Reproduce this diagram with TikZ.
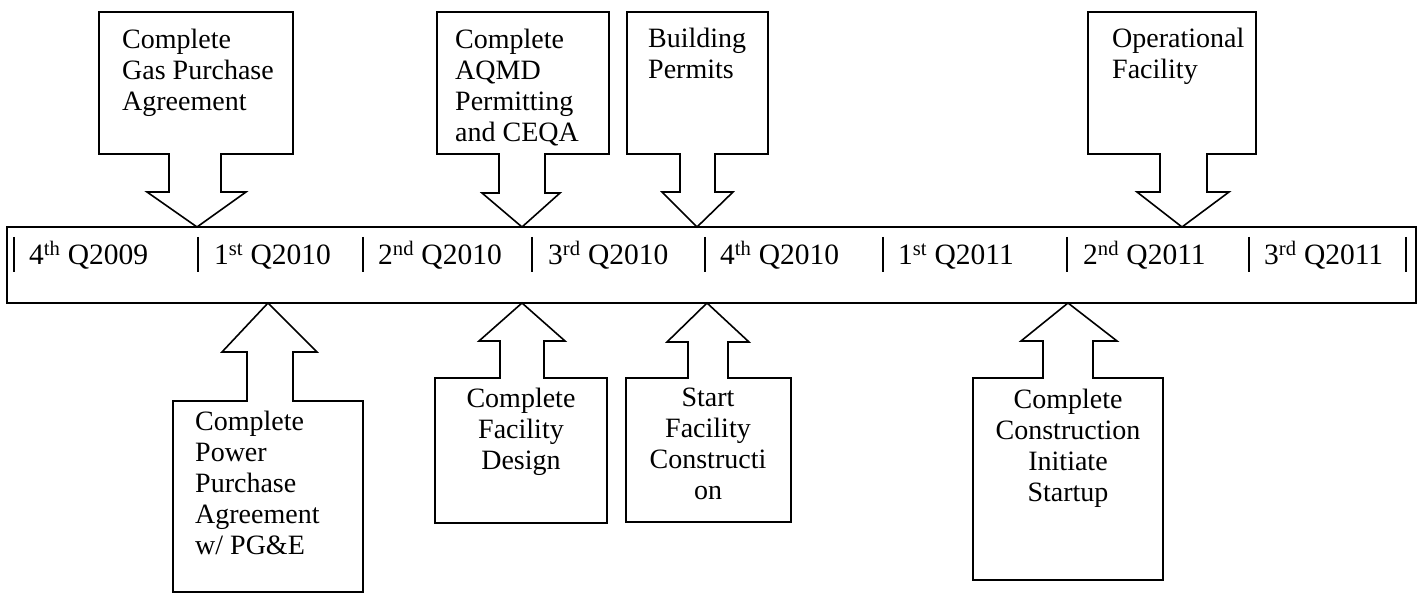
\documentclass[tikz,border=0pt]{standalone}
\usepackage{fontspec}
\setmainfont{Liberation Serif}
\begin{document}
\begin{tikzpicture}[x=1pt,y=-1pt,
  outline/.style={draw=black,line width=1.6pt,line join=miter,fill=white},
  lbl/.style={inner sep=0pt,font=\fontsize{28}{31}\selectfont},
  quarter/.style={inner sep=0pt,anchor=base west,font=\fontsize{29.5}{31}\selectfont},
  tick/.style={line width=2.2pt}]
\useasboundingbox (0,0) rectangle (1425,593);

% timeline bar
\draw[outline] (7,227) rectangle (1416,303);
\foreach \x in {14,198,363,532,705,883,1067,1249,1406}
  \draw[tick] (\x,237) -- (\x,272);
\node[quarter] (q1) at (29,265)   {4\textsuperscript{th} Q2009};
\node[quarter] (q2) at (214,265)  {1\textsuperscript{st} Q2010};
\node[quarter] (q3) at (378,265)  {2\textsuperscript{nd} Q2010};
\node[quarter] (q4) at (548,265)  {3\textsuperscript{rd} Q2010};
\node[quarter] (q5) at (720,265)  {4\textsuperscript{th} Q2010};
\node[quarter] (q6) at (898,265)  {1\textsuperscript{st} Q2011};
\node[quarter] (q7) at (1083,265) {2\textsuperscript{nd} Q2011};
\node[quarter] (q8) at (1264,265) {3\textsuperscript{rd} Q2011};

% milestones above the timeline
\draw[outline] (99,12) -- (293,12) -- (293,154) -- (221,154) -- (221,192) -- (246,192)
  -- (197,227) -- (147,192) -- (169,192) -- (169,154) -- (99,154) -- cycle;
\draw[outline] (437,12) -- (609,12) -- (609,154) -- (545,154) -- (545,193) -- (560,193)
  -- (522,227) -- (482,193) -- (499,193) -- (499,154) -- (437,154) -- cycle;
\draw[outline] (627,12) -- (768,12) -- (768,154) -- (715,154) -- (715,192) -- (733,192)
  -- (697,227) -- (662,192) -- (680,192) -- (680,154) -- (627,154) -- cycle;
\draw[outline] (1088,12) -- (1256,12) -- (1256,154) -- (1207,154) -- (1207,192) -- (1229,192)
  -- (1182,227) -- (1137,192) -- (1160,192) -- (1160,154) -- (1088,154) -- cycle;

\node[lbl,anchor=north west,align=left] (gas) at (122,29)
  {Complete\\Gas Purchase\\Agreement};
\node[lbl,anchor=north west,align=left] (aqmd) at (455,29)
  {Complete\\AQMD\\Permitting\\and CEQA};
\node[lbl,anchor=north west,align=left] (bldg) at (648,28)
  {Building\\Permits};
\node[lbl,anchor=north west,align=left] (oper) at (1112,28)
  {Operational\\Facility};

% milestones below the timeline
\draw[outline] (268,303) -- (317,352) -- (293,352) -- (293,401) -- (363,401) -- (363,592)
  -- (173,592) -- (173,401) -- (247,401) -- (247,352) -- (222,352) -- cycle;
\draw[outline] (522,303) -- (565,341) -- (544,341) -- (544,378) -- (607,378) -- (607,523)
  -- (435,523) -- (435,378) -- (500,378) -- (500,341) -- (479,341) -- cycle;
\draw[outline] (707,303) -- (749,342) -- (728,342) -- (728,378) -- (791,378) -- (791,522)
  -- (626,522) -- (626,378) -- (688,378) -- (688,342) -- (667,342) -- cycle;
\draw[outline] (1068,303) -- (1117,341) -- (1093,341) -- (1093,378) -- (1163,378) -- (1163,580)
  -- (973,580) -- (973,378) -- (1043,378) -- (1043,341) -- (1021,341) -- cycle;

\node[lbl,anchor=north west,align=left] (ppa) at (195,411)
  {Complete\\Power\\Purchase\\Agreement\\w/ PG\&E};
\node[lbl,anchor=north,align=center] (design) at (521,388)
  {Complete\\Facility\\Design};
\node[lbl,anchor=north,align=center] (start) at (708,388)
  {Start\\Facility\\Constructi\\on};
\node[lbl,anchor=north,align=center] (startup) at (1068,389)
  {Complete\\Construction\\Initiate\\Startup};
\end{tikzpicture}
\end{document}
